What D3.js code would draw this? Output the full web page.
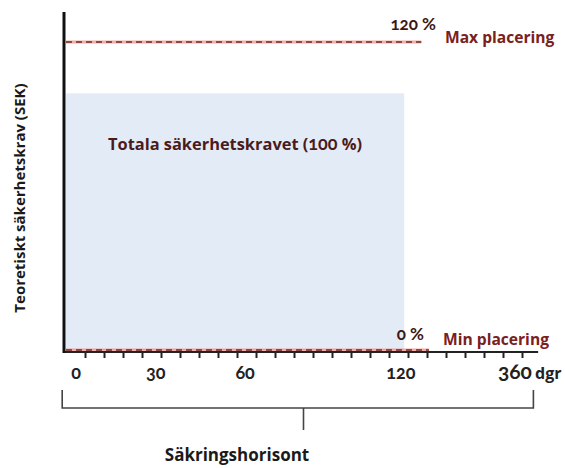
<!DOCTYPE html>
<html>
<head>
<meta charset="utf-8">
<script src="https://cdn.jsdelivr.net/npm/d3@7"></script>
<style>
  body { margin: 0; background: #fff; }
  svg { display: block; font-family: "Open Sans", Lato, sans-serif; }
  .num { font-family: Lato, sans-serif; font-feature-settings: "onum"; font-variant-numeric: oldstyle-nums; }
</style>
</head>
<body>
<div id="chart"></div>
<script>
// schematic levels, in percent of the total requirement
const maxLevel = 120;
const minLevel = 0;
const requirement = 100;

const levelLabels = ['120 %', '0 %'];
const levelNames = ['Max placering', 'Min placering'];
const requirementLabel = ['Totala säkerhetskravet (', '100', ' %)'];

// horizon axis: tick slots and labelled slots
const tickSlots = d3.range(1, 25);
const horizonLabels = ['0', '30', '60', '120', '360'];
const horizonSlots = [0.5, 4.7, 9.4, 17.6, 23.6];
const horizonUnit = 'dgr';
const requirementEnd = 17.8;   // slot where the requirement block ends
const maxLineEnd = 18.7;
const minLineEnd = 19.1;

const yTitle = 'Teoretiskt säkerhetskrav (SEK)';
const xTitle = 'Säkringshorisont';

const width = 565, height = 468;

const svg = d3.select('#chart').append('svg')
  .attr('width', width)
  .attr('height', height);

const x = d3.scaleLinear().domain([0, 24.6]).range([66, 533.4]);
const y = d3.scaleLinear().domain([0, 120]).range([350, 42]);

// requirement block
svg.append('rect')
  .attr('x', x(0))
  .attr('y', y(requirement))
  .attr('width', x(requirementEnd) - x(0))
  .attr('height', y(0) - y(requirement))
  .attr('fill', '#e3ebf6');

const req = svg.append('text')
  .attr('x', 108)
  .attr('y', 150)
  .attr('fill', '#4b1b1b')
  .attr('font-weight', 'bold')
  .attr('font-size', 16.4);
req.append('tspan').text(requirementLabel[0]);
req.append('tspan').attr('class', 'num').attr('font-size', 18).text(requirementLabel[1]);
req.append('tspan').text(requirementLabel[2]);

// level lines
const levels = [
  { v: maxLevel, end: maxLineEnd, label: levelLabels[0], name: levelNames[0] },
  { v: minLevel, end: minLineEnd, label: levelLabels[1], name: levelNames[1] }
];

levels.forEach((d, i) => {
  svg.append('line')
    .attr('x1', x(0)).attr('x2', x(d.end))
    .attr('y1', y(d.v)).attr('y2', y(d.v))
    .attr('stroke', '#f08a80')
    .attr('stroke-width', 3)
    .attr('stroke-opacity', 0.7);
  svg.append('line')
    .attr('x1', x(0)).attr('x2', x(d.end))
    .attr('y1', y(d.v)).attr('y2', y(d.v))
    .attr('stroke', '#6a2a2a')
    .attr('stroke-width', 1.6)
    .attr('stroke-dasharray', '6,4');

  svg.append('text')
    .attr('x', i === 0 ? 436 : 424)
    .attr('y', y(d.v) - (i === 0 ? 12 : 10))
    .attr('text-anchor', 'end')
    .attr('fill', '#3d1717')
    .attr('font-weight', 'bold')
    .attr('font-size', 17)
    .attr('class', 'num')
    .text(d.label);

  svg.append('text')
    .attr('x', i === 0 ? 445 : 443)
    .attr('y', y(d.v) + (i === 0 ? 1 : -5))
    .attr('fill', '#7a2020')
    .attr('font-weight', 'bold')
    .attr('font-size', 15.6)
    .text(d.name);
});

// x axis with small ticks
const xAxis = svg.append('g')
  .attr('transform', 'translate(0,352)')
  .call(d3.axisBottom(x).tickValues(tickSlots).tickFormat('').tickSize(6).tickSizeOuter(0));
xAxis.select('.domain').remove();
xAxis.selectAll('.tick line').attr('stroke', '#222').attr('stroke-width', 2);

svg.append('line')
  .attr('x1', 64).attr('x2', x(24.85))
  .attr('y1', 352).attr('y2', 352)
  .attr('stroke', '#222').attr('stroke-width', 2.2);

const xLabels = svg.append('g')
  .attr('transform', 'translate(0,352)')
  .call(d3.axisBottom(x).tickValues(horizonSlots)
    .tickFormat((d, i) => horizonLabels[i]).tickSize(0).tickPadding(0));
xLabels.select('.domain').remove();
xLabels.selectAll('text')
  .attr('y', 27)
  .attr('dy', null)
  .attr('class', 'num')
  .attr('font-family', 'Lato, sans-serif')
  .attr('font-weight', 'bold')
  .attr('font-size', (d, i) => i === horizonLabels.length - 1 ? 21 : 18)
  .attr('fill', '#222');

svg.append('text')
  .attr('x', 535)
  .attr('y', 379)
  .attr('fill', '#222')
  .attr('font-weight', 'bold')
  .attr('font-size', 16)
  .text(horizonUnit);

// y axis
svg.append('line')
  .attr('x1', 64).attr('x2', 64)
  .attr('y1', 12).attr('y2', 353)
  .attr('stroke', '#111').attr('stroke-width', 3);

svg.append('text')
  .attr('transform', 'translate(25,198) rotate(-90)')
  .attr('text-anchor', 'middle')
  .attr('fill', '#1a1a1a')
  .attr('font-weight', 'bold')
  .attr('font-size', 15)
  .text(yTitle);

// horizon bracket
const bx0 = x(-0.2), bx1 = x(24.6), by = 408;
svg.append('path')
  .attr('d', `M${bx0},390V${by}H${bx1}V390`)
  .attr('fill', 'none')
  .attr('stroke', '#444')
  .attr('stroke-width', 1.6);
svg.append('line')
  .attr('x1', x(12.5)).attr('x2', x(12.5))
  .attr('y1', by).attr('y2', 430)
  .attr('stroke', '#444')
  .attr('stroke-width', 1.6);

svg.append('text')
  .attr('x', 237)
  .attr('y', 461)
  .attr('text-anchor', 'middle')
  .attr('fill', '#1a1a1a')
  .attr('font-weight', 'bold')
  .attr('font-size', 17)
  .text(xTitle);
</script>
</body>
</html>
